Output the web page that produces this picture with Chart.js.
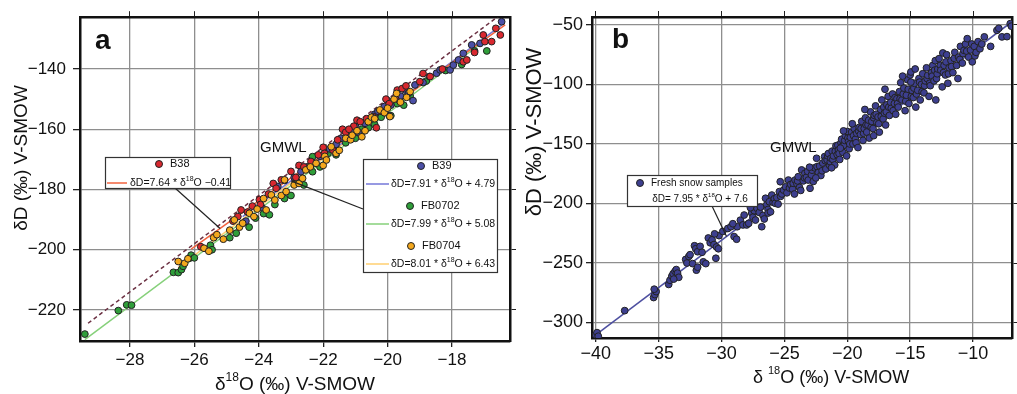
<!DOCTYPE html>
<html lang="en">
<head>
<meta charset="UTF-8">
<title>δD vs δ18O</title>
<script src="https://cdn.jsdelivr.net/npm/chart.js@4"></script>
<style>
  body { margin: 0; background: #fff; }
  canvas { position: absolute; top: 0; }
  #chartA { left: 0; }
  #chartB { left: 520px; }
</style>
</head>
<body>
<canvas id="chartA" width="520" height="394"></canvas>
<canvas id="chartB" width="497" height="394"></canvas>
<script>
// ---- panel a data ----
const xTicksA = [-28, -26, -24, -22, -20, -18];
const yTicksA = [-220, -200, -180, -160, -140];

const b38 = [[-25.8,-199],[-24.8,-190.5],[-24.65,-189],[-24.55,-186.8],[-24.35,-187.5],[-24.2,-185.5],[-23.98,-183.4],[-23.95,-185],[-23.7,-181.5],[-23.55,-178],[-23.46,-179.6],[-23.3,-176.8],[-23.0,-174],[-22.85,-176],[-22.75,-172],[-22.6,-172.5],[-22.38,-170.7],[-22.15,-168.5],[-22.0,-166],[-21.96,-168],[-21.7,-166.9],[-21.55,-163.5],[-21.4,-160],[-21.3,-161],[-21.05,-159],[-20.95,-157],[-20.85,-157.5],[-20.65,-156.5],[-20.45,-155.8],[-20.35,-159.5],[-20.2,-154],[-20.05,-150],[-19.95,-151.5],[-19.75,-150],[-19.7,-147],[-19.55,-146.5],[-19.43,-145.6],[-19.0,-144.2],[-18.9,-141.5],[-18.68,-142.5],[-18.3,-140],[-17.65,-137.6],[-17.54,-137],[-17.3,-134.5],[-16.98,-130.9],[-16.77,-130.9],[-17.03,-128.7],[-16.5,-128.7],[-16.64,-126.5],[-21.2,-160]];
const b39 = [[-24.4,-190.5],[-23.9,-186],[-23.41,-179],[-23.2,-177],[-22.9,-176],[-22.69,-174.1],[-22.5,-172.5],[-22.35,-171.5],[-22.1,-169],[-21.8,-166.5],[-21.6,-165],[-21.45,-163],[-21.2,-161.5],[-21.1,-160.5],[-21.0,-159],[-20.9,-161],[-20.7,-158],[-20.55,-156.5],[-20.4,-155],[-20.3,-154],[-20.1,-152.5],[-20.0,-150.5],[-19.95,-155.5],[-19.9,-152],[-19.6,-149],[-19.45,-147],[-19.35,-148],[-19.21,-150.5],[-19.15,-145.3],[-18.9,-144.5],[-18.7,-142.5],[-18.48,-141.4],[-18.37,-140.3],[-18.06,-140.3],[-17.96,-138.7],[-17.8,-137],[-17.65,-134.8],[-17.39,-132],[-17.13,-131.5],[-16.46,-124.3]];
const fb0702 = [[-29.4,-228],[-28.36,-220.2],[-28.1,-218.3],[-27.95,-218.4],[-26.65,-207.5],[-26.5,-207.6],[-26.4,-206.6],[-26.35,-205.5],[-26.15,-202.8],[-26.1,-201.8],[-26.0,-202.7],[-25.5,-198.5],[-25.45,-200],[-24.9,-196],[-24.7,-194.5],[-24.45,-191],[-24.3,-192.5],[-24.1,-189.5],[-23.85,-188],[-23.67,-188.4],[-23.5,-185],[-23.2,-183],[-23.0,-182],[-22.84,-177.4],[-22.6,-178.5],[-22.33,-174.1],[-22.33,-169.1],[-22.1,-172.5],[-21.85,-168],[-21.6,-168.5],[-21.3,-164.5],[-21.0,-163],[-20.8,-160],[-20.6,-159.5],[-20.4,-158.5],[-20.2,-156],[-19.9,-155.5],[-19.7,-151.5],[-19.5,-152],[-19.3,-149],[-18.8,-144],[-18.2,-140.5],[-17.7,-138.5],[-17.3,-134],[-16.92,-134]];
const fb0704 = [[-26.5,-203.9],[-26.3,-204.5],[-26.2,-203],[-25.7,-199.5],[-25.55,-200.5],[-25.4,-196],[-25.3,-195],[-25.1,-196.5],[-24.9,-193.5],[-24.76,-190.1],[-24.6,-192.5],[-24.5,-191.2],[-24.29,-187.9],[-24.15,-189],[-24.05,-186.5],[-23.85,-183],[-23.77,-186.8],[-23.61,-181.8],[-23.5,-183.5],[-23.3,-182],[-23.2,-176.8],[-23.15,-180.7],[-22.9,-178.5],[-22.75,-178],[-22.64,-176.3],[-22.54,-173.5],[-22.4,-172.5],[-22.22,-171.3],[-22.0,-172],[-21.95,-169],[-21.9,-170.2],[-21.75,-165.8],[-21.6,-168],[-21.5,-167],[-21.3,-163],[-21.15,-163.5],[-21.1,-162],[-20.95,-160.5],[-20.8,-162.5],[-20.7,-160.5],[-20.6,-157.5],[-20.5,-156],[-20.4,-156.5],[-20.24,-153.6],[-20.1,-154.5],[-20.0,-153],[-19.93,-155.8],[-19.8,-150],[-19.72,-148.1],[-19.6,-151],[-19.41,-149.4],[-19.3,-147.5]];

// regression lines, as printed in the legend: dD = slope * d18O + intercept
const fitSlopeA = [7.64, 7.91, 7.99, 8.01];
const fitInterceptA = [-0.41, 4.79, 5.08, 6.43];
const fitFromA = [-26.1, -24.5, -29.4, -26.5];
const fitToA = [-16.35, -16.4, -16.9, -17.5];
const gmwlSlope = 8, gmwlIntercept = 10;
const gmwlRangeA = [-29.3, -16.5];

// ---- panel b data ----
const xTicksB = [-40, -35, -30, -25, -20, -15, -10];
const yTicksB = [-300, -250, -200, -150, -100, -50];

const freshSnow = [
  [-40.0,-310.5],[-39.9,-308.5],[-39.8,-311.5],[-37.7,-290],
  [-35.4,-279],[-35.3,-276.5],[-35.2,-274],[-35.35,-272],
  [-34.2,-268],[-34.1,-264.5],[-33.95,-261],[-33.85,-259],[-33.7,-257],[-33.6,-255.5],[-33.5,-258.5],[-33.4,-262],[-33.8,-263.5],
  [-32.85,-247],[-32.75,-250],[-32.6,-244.5],[-32.5,-243],[-32.3,-250.5],[-32.0,-256],[-31.9,-253.5],
  [-32.15,-235.5],[-32.05,-238],[-31.9,-240.5],[-31.7,-236],[-31.55,-241],[-31.45,-249],[-31.25,-250.5],
  [-31.05,-229],[-30.9,-233],[-30.75,-230.5],[-30.6,-234.5],[-30.45,-246],[-30.4,-236.5],[-30.25,-238],[-30.2,-227],[-30.55,-225.5],
  [-29.9,-223.5],[-29.5,-221],[-29.25,-219.5],[-29.0,-227.8],[-28.75,-219.5],[-28.8,-230],[-29.1,-217],
  [-28.5,-214],[-28.3,-218],[-28.2,-209.7],[-28.0,-218],[-27.84,-216.7],[-27.6,-208],[-27.5,-211.5],[-27.4,-206],[-27.3,-213.9],[-27.18,-204],[-27.0,-207.5],[-26.9,-203],[-26.8,-219.5],[-26.7,-210],[-26.5,-195.6],[-26.4,-201],[-26.3,-205],[-26.3,-208],[-26.2,-198.5],[-26.0,-192.9],[-25.9,-199],[-25.8,-196],[-25.73,-199.8],[-25.6,-195],[-25.5,-200.5],[-25.4,-190],[-25.33,-181.7],[-25.3,-194],[-25.2,-192],[-25.07,-188.7],[-27.7,-203.5],[-26.6,-213],[-26.1,-207],
  [-24.9,-186],[-24.8,-191],[-24.68,-180.3],[-24.6,-187],[-24.5,-184],[-24.35,-188],[-24.3,-183],[-24.15,-180.3],[-24.0,-183.5],[-23.95,-181],[-23.9,-177.5],[-23.8,-186.5],[-23.63,-171.8],[-23.5,-181],[-23.4,-178.5],[-23.37,-174.6],[-23.25,-178],[-23.15,-173],[-23.1,-180.3],[-22.96,-187.2],[-22.85,-176],[-22.8,-172],[-22.7,-181.5],[-22.6,-170],[-22.44,-162],[-22.4,-169],[-22.3,-174],[-22.2,-168.5],[-22.1,-176.5],[-22.0,-172.5],[-23.7,-189],[-24.2,-192],[-23.0,-169.5],[-22.5,-178.5],
  [-21.95,-166],[-21.8,-160.6],[-21.75,-164],[-21.7,-171],[-21.6,-163.4],[-21.55,-160],[-21.5,-158],[-21.4,-168],[-21.35,-165],[-21.3,-162],[-21.2,-156],[-21.15,-163],[-21.1,-160],[-21.0,-167.6],[-20.95,-156],[-20.9,-151.5],[-20.8,-159],[-20.75,-151],[-20.7,-155],[-20.65,-158],[-20.6,-163],[-20.5,-149],[-20.45,-146],[-20.4,-152],[-20.35,-157],[-20.25,-151],[-20.2,-147],[-20.15,-143],[-20.05,-160],[-20.0,-139.5],[-19.95,-145],[-19.9,-148],[-19.85,-154],[-19.8,-150],[-19.75,-144.5],[-19.65,-140],[-19.55,-150],[-19.5,-143],[-19.45,-137],[-19.35,-146],[-19.3,-149],[-19.25,-141],[-19.15,-153],[-19.1,-139],[-19.05,-136],[-20.55,-153.5],[-21.25,-170],[-20.3,-139],[-19.6,-133],
  [-18.95,-142],[-18.9,-137],[-18.85,-131],[-18.75,-147],[-18.7,-141],[-18.65,-137],[-18.55,-128],[-18.5,-134],[-18.45,-140],[-18.35,-134],[-18.3,-130],[-18.25,-145],[-18.15,-123],[-18.1,-136],[-18.05,-131],[-17.95,-137],[-17.9,-128],[-17.85,-126],[-17.75,-118],[-17.7,-125],[-17.65,-132],[-17.55,-127.3],[-17.5,-133],[-17.45,-140],[-17.35,-121],[-17.3,-127],[-17.25,-113],[-17.15,-129],[-17.1,-119],[-17.05,-124],[-16.95,-134],[-16.9,-123],[-16.85,-117],[-16.75,-110],[-16.7,-119],[-16.65,-126],[-16.55,-115],[-16.5,-120],[-16.4,-108],[-16.35,-122],[-16.25,-116],[-16.2,-111],[-16.15,-125],[-16.05,-112],[-16.0,-116],[-18.6,-121],[-17.9,-143],[-17.0,-104],
  [-15.95,-119],[-15.85,-106],[-15.8,-112],[-15.75,-98.5],[-15.65,-113],[-15.55,-108],[-15.5,-103],[-15.4,-122],[-15.35,-114],[-15.3,-109],[-15.2,-96],[-15.15,-104],[-15.1,-116],[-15.0,-92],[-14.94,-89.5],[-14.9,-110],[-14.85,-105],[-14.75,-111],[-14.7,-103],[-14.65,-99],[-14.55,-119],[-14.5,-108],[-14.4,-104.9],[-14.3,-95],[-14.25,-98],[-14.2,-113],[-14.1,-100],[-14.05,-106],[-14.0,-91],[-13.9,-107],[-13.85,-101],[-13.8,-97],[-13.7,-86],[-13.65,-95],[-13.6,-92.3],[-13.5,-110],[-13.45,-99],[-13.4,-101],[-13.3,-90],[-13.25,-93],[-13.2,-84],[-13.1,-97],[-13.05,-88],[-13.0,-80],[-12.96,-113],[-12.9,-95],[-12.85,-91],[-12.8,-87],[-12.7,-78.3],[-12.6,-84],[-12.56,-88],[-12.45,-102],[-12.4,-73.5],[-12.35,-90],[-12.3,-84],[-12.2,-92],[-12.15,-81],[-12.1,-75],[-15.6,-93],[-14.6,-87],[-14.94,-98],
  [-11.95,-91],[-11.9,-86],[-11.75,-80],[-11.7,-85],[-11.6,-90],[-11.5,-78],[-11.45,-73],[-11.3,-84],[-11.15,-77],[-11.05,-79],[-11.0,-68],[-10.85,-82],[-10.8,-74],[-10.72,-71.3],[-10.6,-66],[-10.5,-72],[-10.46,-61.5],[-10.35,-77],[-10.2,-71],[-10.1,-66],[-10.06,-81],[-9.9,-68],[-9.85,-76],[-9.75,-73],[-9.6,-64],[-9.45,-70],[-9.3,-66],[-9.1,-60],[-8.6,-68],[-8.1,-54.5],[-7.95,-52.8],[-7.7,-60],[-7.3,-59.8],[-7.04,-48.9],[-6.95,-51],[-11.2,-95],[-12.0,-99]
];
const fitSlopeB = 7.95, fitInterceptB = 7.6;
const fitRangeB = [-40, -6.9];

// ---- styling ----
const NARROW = "'Liberation Sans Narrow', 'Liberation Sans', Arial, sans-serif";
const SANS = "'Liberation Sans', Arial, sans-serif";
const pointColorsA = ['#d9282f', '#4b4fa6', '#2f9e3a', '#f4a81d'];
const lineColorsA = ['#f2633f', '#7477d8', '#86d07a', '#ffcf70'];
const GRID = '#8e8e8e';

function minus(v) { return v < 0 ? '\u2212' + Math.abs(v) : String(v); }
function fitLine(slope, intercept, x0, x1) {
  return [{x: x0, y: slope * x0 + intercept}, {x: x1, y: slope * x1 + intercept}];
}

// text with '^' parts drawn as superscript
function richText(ctx, parts, x, y, opt) {
  const size = opt.size, fam = opt.family || SANS, wt = opt.weight || 'normal';
  const supSize = Math.round(size * 0.62);
  let total = 0;
  const pieces = parts.map(p => {
    const sup = p.startsWith('^');
    const txt = sup ? p.slice(1) : p;
    ctx.font = `${wt} ${sup ? supSize : size}px ${fam}`;
    const w = ctx.measureText(txt).width;
    total += w;
    return {txt, sup, w};
  });
  ctx.save();
  ctx.translate(x, y);
  ctx.rotate(opt.rotate || 0);
  ctx.fillStyle = opt.color || '#111';
  ctx.textBaseline = 'middle';
  ctx.textAlign = 'left';
  let cx = opt.align === 'center' ? -total / 2 : (opt.align === 'right' ? -total : 0);
  pieces.forEach(p => {
    ctx.font = `${wt} ${p.sup ? supSize : size}px ${fam}`;
    ctx.fillText(p.txt, cx, p.sup ? -size * 0.38 : 0);
    cx += p.w;
  });
  ctx.restore();
}
function dot(ctx, x, y, fill) {
  ctx.beginPath();
  ctx.arc(x, y, 3.5, 0, Math.PI * 2);
  ctx.fillStyle = fill; ctx.fill();
  ctx.lineWidth = 1; ctx.strokeStyle = '#222'; ctx.stroke();
}
function seg(ctx, x0, y0, x1, y1, color, width) {
  ctx.beginPath(); ctx.moveTo(x0, y0); ctx.lineTo(x1, y1);
  ctx.strokeStyle = color; ctx.lineWidth = width; ctx.stroke();
}
function box(ctx, x, y, w, h) {
  ctx.fillStyle = '#fff'; ctx.fillRect(x, y, w, h);
  ctx.strokeStyle = '#333'; ctx.lineWidth = 1.2; ctx.strokeRect(x + 0.5, y + 0.5, w, h);
}

function axes(o) {
  const tickSet = list => s => { s.ticks = list.map(v => ({value: v})); };
  const border = {color: '#111', width: 2.5};
  return {
    x: {type: 'linear', position: 'bottom', min: o.xMin, max: o.xMax,
        afterBuildTicks: tickSet(o.xTicks), afterFit: s => { s.height = o.bottom; },
        ticks: {font: {family: o.tickFamily, size: o.tickSize}, color: '#111', padding: o.xPad, maxRotation: 0, callback: minus},
        grid: {color: GRID, lineWidth: 1.3, tickLength: o.xTick, tickColor: '#222'}, border},
    x2: {type: 'linear', position: 'top', min: o.xMin, max: o.xMax,
        afterBuildTicks: tickSet(o.xTicks), afterFit: s => { s.height = o.top; },
        ticks: {display: false},
        grid: {drawOnChartArea: false, tickLength: 6, tickColor: '#222'}, border},
    y: {type: 'linear', position: 'left', min: o.yMin, max: o.yMax,
        afterBuildTicks: tickSet(o.yTicks), afterFit: s => { s.width = o.left; },
        ticks: {font: {family: o.tickFamily, size: o.tickSize}, color: '#111', padding: o.yPad, callback: minus},
        grid: {color: GRID, lineWidth: 1.3, tickLength: o.yTick, tickColor: '#222'}, border},
    y2: {type: 'linear', position: 'right', min: o.yMin, max: o.yMax,
        afterBuildTicks: tickSet(o.yTicks), afterFit: s => { s.width = o.right; },
        ticks: {display: false},
        grid: {drawOnChartArea: false, tickLength: 6, tickColor: '#222'}, border}
  };
}

function pts(data, color) {
  return {data, backgroundColor: color, borderColor: '#222', borderWidth: 1, pointRadius: 3.4};
}
function fit(data, color, extra) {
  return Object.assign({data, showLine: true, pointRadius: 0, borderColor: color, borderWidth: 1.5}, extra || {});
}

// ---- panel a ----
const notesA = {
  id: 'notesA',
  afterDraw(chart) {
    const ctx = chart.ctx, xs = chart.scales.x, ys = chart.scales.y;
    const a = chart.chartArea;
    richText(ctx, ['\u03b4', '^18', 'O (\u2030) V-SMOW'], (a.left + a.right) / 2, 385, {size: 19, align: 'center'});
    richText(ctx, ['\u03b4D (\u2030) V-SMOW'], 22, 158, {size: 19, align: 'center', rotate: -Math.PI / 2});
    richText(ctx, ['a'], 95, 41, {size: 28, weight: 'bold'});
    richText(ctx, ['GMWL'], 260, 148, {size: 15});

    // leader lines to the fitted lines
    const lx = -25.2;
    seg(ctx, 175, 188, xs.getPixelForValue(lx), ys.getPixelForValue(fitSlopeA[0] * lx + fitInterceptA[0]), '#222', 1.2);
    const bx = -23.0;
    seg(ctx, 363, 209, xs.getPixelForValue(bx), ys.getPixelForValue(fitSlopeA[1] * bx + fitInterceptA[1]), '#222', 1.2);

    box(ctx, 105, 157, 125, 31);
    dot(ctx, 159, 164, pointColorsA[0]);
    richText(ctx, ['B38'], 170, 164, {size: 11});
    seg(ctx, 107, 183, 127, 183, lineColorsA[0], 1.5);
    richText(ctx, ['\u03b4D=7.64 * \u03b4', '^18', 'O \u22120.41'], 130, 183, {size: 10.5});

    box(ctx, 363, 159, 134, 113);
    const rows = [['B39', 421, 166, 184, '\u03b4D=7.91 * \u03b4', 'O + 4.79'],
                  ['FB0702', 410, 206, 224, '\u03b4D=7.99 * \u03b4', 'O + 5.08'],
                  ['FB0704', 411, 246, 264, '\u03b4D=8.01 * \u03b4', 'O + 6.43']];
    rows.forEach((r, i) => {
      dot(ctx, r[1], r[2], pointColorsA[i + 1]);
      richText(ctx, [r[0]], r[1] + 11, r[2], {size: 11});
      seg(ctx, 366, r[3], 389, r[3], lineColorsA[i + 1], 1.5);
      richText(ctx, [r[4], '^18', r[5]], 391, r[3], {size: 10.5});
    });
  }
};

new Chart(document.getElementById('chartA'), {
  type: 'scatter',
  data: {
    datasets: [
      pts(fb0704, pointColorsA[3]),
      pts(b38, pointColorsA[0]),
      pts(b39, pointColorsA[1]),
      pts(fb0702, pointColorsA[2]),
      fit(fitLine(fitSlopeA[0], fitInterceptA[0], fitFromA[0], fitToA[0]), lineColorsA[0]),
      fit(fitLine(fitSlopeA[1], fitInterceptA[1], fitFromA[1], fitToA[1]), lineColorsA[1]),
      fit(fitLine(fitSlopeA[3], fitInterceptA[3], fitFromA[3], fitToA[3]), lineColorsA[3]),
      fit(fitLine(fitSlopeA[2], fitInterceptA[2], fitFromA[2], fitToA[2]), lineColorsA[2]),
      fit(fitLine(gmwlSlope, gmwlIntercept, gmwlRangeA[0], gmwlRangeA[1]), '#6b3042', {borderDash: [4, 3]})
    ]
  },
  options: {
    responsive: false, animation: false, events: [],
    layout: {padding: 0},
    plugins: {legend: {display: false}, tooltip: {enabled: false}},
    scales: axes({xMin: -29.55, xMax: -16.2, yMin: -230.3, yMax: -122.8,
                  xTicks: xTicksA, yTicks: yTicksA,
                  left: 80, right: 10, top: 17, bottom: 53,
                  tickFamily: NARROW, tickSize: 17, xPad: 3, yPad: 7, xTick: 6, yTick: 7})
  },
  plugins: [notesA]
});

// ---- panel b ----
const notesB = {
  id: 'notesB',
  afterDraw(chart) {
    const ctx = chart.ctx, xs = chart.scales.x, ys = chart.scales.y;
    richText(ctx, ['\u03b4 ', '^18', 'O (\u2030) V-SMOW'], 311, 378, {size: 18, align: 'center'});
    richText(ctx, ['\u03b4D (\u2030) V-SMOW'], 15, 132, {size: 22, align: 'center', rotate: -Math.PI / 2});
    richText(ctx, ['b'], 92, 40, {size: 28, weight: 'bold'});
    richText(ctx, ['GMWL'], 250, 148, {size: 15});

    const lx = -29.6;
    seg(ctx, 192, 206, xs.getPixelForValue(lx), ys.getPixelForValue(fitSlopeB * lx + fitInterceptB), '#222', 1.2);
    box(ctx, 107, 175, 130, 31);
    dot(ctx, 120, 183, '#3d3f8f');
    richText(ctx, ['Fresh snow samples'], 131, 183, {size: 10});
    richText(ctx, ['\u03b4D= 7.95 * \u03b4', '^18', 'O + 7.6'], 180, 199, {size: 10, align: 'center'});
  }
};

new Chart(document.getElementById('chartB'), {
  type: 'scatter',
  data: {
    datasets: [
      pts(freshSnow, '#3d3f8f'),
      fit(fitLine(fitSlopeB, fitInterceptB, fitRangeB[0], fitRangeB[1]), '#4d4fa0')
    ]
  },
  options: {
    responsive: false, animation: false, events: [],
    layout: {padding: 0},
    plugins: {legend: {display: false}, tooltip: {enabled: false}},
    scales: axes({xMin: -40.3, xMax: -6.9, yMin: -313, yMax: -43.3,
                  xTicks: xTicksB, yTicks: yTicksB,
                  left: 72, right: 2, top: 17, bottom: 56,
                  tickFamily: SANS, tickSize: 18, xPad: 1, yPad: 3, xTick: 4, yTick: 6})
  },
  plugins: [notesB]
});
</script>
</body>
</html>
